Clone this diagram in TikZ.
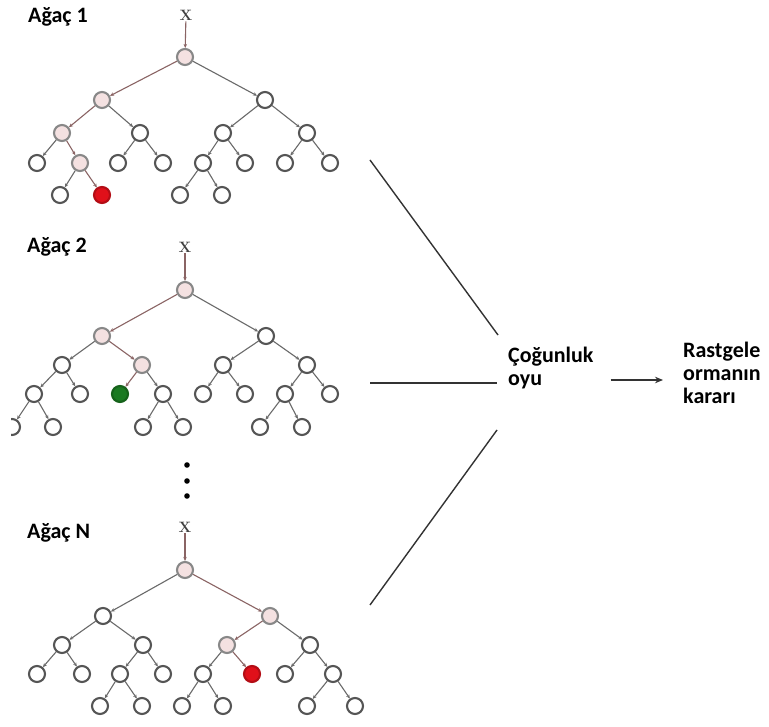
\documentclass[tikz,border=0pt]{standalone}
\usepackage{fontspec}
\setsansfont{Carlito}
\usepackage{tikz}
\usetikzlibrary{arrows.meta}

\definecolor{ndgray}{HTML}{555555}
\definecolor{edgray}{HTML}{6A6A6A}
\definecolor{hitpink}{HTML}{F4E1E1}
\definecolor{hitedge}{HTML}{8A6464}
\definecolor{leafred}{HTML}{E0101A}
\definecolor{leafgreen}{HTML}{1B7A22}

\tikzset{
  nd/.style={circle,draw=ndgray,line width=2.1pt,fill=white,minimum size=16pt,inner sep=0pt},
  hitnd/.style={nd,draw=ndgray!70,fill=hitpink},
  rednd/.style={nd,draw=leafred!80!black,fill=leafred},
  greennd/.style={nd,draw=leafgreen!80!black,fill=leafgreen},
  edg/.style={draw=edgray,line width=1.1pt,-{Stealth[length=4pt,width=3.5pt]}},
  hitedg/.style={edg,draw=hitedge},
  title/.style={font=\sffamily\bfseries\fontsize{22}{23}\selectfont,anchor=west,inner sep=0pt},
  xin/.style={font=\bfseries\fontsize{15}{15}\selectfont,text=black!75,inner sep=1pt},
  bigline/.style={draw=black!80,line width=1.4pt},
  votebox/.style={font=\sffamily\bfseries\fontsize{22}{23}\selectfont,align=left,anchor=west,inner sep=0pt}
}

\begin{document}
\begin{tikzpicture}[x=1pt,y=-1pt]
    \useasboundingbox (0,0) rectangle (769,727);
    \fill[white] (0,0) rectangle (769,727);
    \clip (11,0) rectangle (769,727);

    % Agac 1
    \node[title] (ttl1) at (28,17) {Ağaç 1};
    \node[xin] (t1x) at (186,15) {X};
    \node[hitnd] (t1r) at (185,57) {};
    \node[hitnd] (t1a) at (102,100) {};
    \node[nd] (t1b) at (265,100) {};
    \node[hitnd] (t1aa) at (62,133) {};
    \node[nd] (t1ab) at (140,133) {};
    \node[nd] (t1ba) at (223,133) {};
    \node[nd] (t1bb) at (307,133) {};
    \node[nd] (t1aaa) at (37,163) {};
    \node[hitnd] (t1aab) at (80,163) {};
    \node[nd] (t1aba) at (118,163) {};
    \node[nd] (t1abb) at (163,163) {};
    \node[nd] (t1baa) at (203,163) {};
    \node[nd] (t1bab) at (245,163) {};
    \node[nd] (t1bba) at (285,163) {};
    \node[nd] (t1bbb) at (330,163) {};
    \node[nd] (t1aaba) at (60,195) {};
    \node[rednd] (t1aabb) at (102,195) {};
    \node[nd] (t1baaa) at (180,195) {};
    \node[nd] (t1baab) at (222,195) {};
    \draw[hitedg] (t1x) -- (t1r);
    \foreach \p/\c in {r/a,a/aa,aa/aab,aab/aabb}
        \draw[hitedg] (t1\p) -- (t1\c);
    \foreach \p/\c in {r/b,a/ab,b/ba,b/bb,aa/aaa,ab/aba,ab/abb,ba/baa,ba/bab,bb/bba,bb/bbb,aab/aaba,baa/baaa,baa/baab}
        \draw[edg] (t1\p) -- (t1\c);

    % Agac 2
    \node[title] (ttl2) at (27,247) {Ağaç 2};
    \node[xin] (t2x) at (185,247) {X};
    \node[hitnd] (t2r) at (185,290) {};
    \node[hitnd] (t2a) at (102,336) {};
    \node[nd] (t2b) at (266,336) {};
    \node[nd] (t2aa) at (62,365) {};
    \node[hitnd] (t2ab) at (142,365) {};
    \node[nd] (t2ba) at (223,365) {};
    \node[nd] (t2bb) at (307,365) {};
    \node[nd] (t2aaa) at (34,394) {};
    \node[nd] (t2aab) at (80,394) {};
    \node[greennd] (t2aba) at (120,394) {};
    \node[nd] (t2abb) at (163,394) {};
    \node[nd] (t2baa) at (203,394) {};
    \node[nd] (t2bab) at (245,394) {};
    \node[nd] (t2bba) at (285,394) {};
    \node[nd] (t2bbb) at (330,394) {};
    \node[nd] (t2aaaa) at (12,427) {};
    \node[nd] (t2aaab) at (53,427) {};
    \node[nd] (t2abba) at (143,427) {};
    \node[nd] (t2abbb) at (183,427) {};
    \node[nd] (t2bbaa) at (260,427) {};
    \node[nd] (t2bbab) at (302,427) {};
    \draw[hitedg] (t2x) -- (t2r);
    \foreach \p/\c in {r/a,a/ab,ab/aba}
        \draw[hitedg] (t2\p) -- (t2\c);
    \foreach \p/\c in {r/b,a/aa,b/ba,b/bb,aa/aaa,aa/aab,ab/abb,ba/baa,ba/bab,bb/bba,bb/bbb,aaa/aaaa,aaa/aaab,abb/abba,abb/abbb,bba/bbaa,bba/bbab}
        \draw[edg] (t2\p) -- (t2\c);

    % noktalar
    \fill[black] (187,465) circle (2.8) (187,481) circle (2.8) (187,496) circle (2.8);

    % Agac N
    \node[title] (ttlN) at (27,533) {Ağaç N};
    \node[xin] (tNx) at (185,527) {X};
    \node[hitnd] (tNr) at (185,570) {};
    \node[nd] (tNa) at (103,616) {};
    \node[hitnd] (tNb) at (270,616) {};
    \node[nd] (tNaa) at (62,645) {};
    \node[nd] (tNab) at (143,645) {};
    \node[hitnd] (tNba) at (227,645) {};
    \node[nd] (tNbb) at (310,645) {};
    \node[nd] (tNaaa) at (37,674) {};
    \node[nd] (tNaab) at (82,674) {};
    \node[nd] (tNaba) at (120,674) {};
    \node[nd] (tNabb) at (163,674) {};
    \node[nd] (tNbaa) at (203,674) {};
    \node[rednd] (tNbab) at (252,674) {};
    \node[nd] (tNbba) at (285,674) {};
    \node[nd] (tNbbb) at (333,674) {};
    \node[nd] (tNabaa) at (100,706) {};
    \node[nd] (tNabab) at (142,706) {};
    \node[nd] (tNbaaa) at (182,706) {};
    \node[nd] (tNbaab) at (223,706) {};
    \node[nd] (tNbbba) at (307,706) {};
    \node[nd] (tNbbbb) at (355,706) {};
    \draw[hitedg] (tNx) -- (tNr);
    \foreach \p/\c in {r/b,b/ba,ba/bab}
        \draw[hitedg] (tN\p) -- (tN\c);
    \foreach \p/\c in {r/a,a/aa,a/ab,b/bb,aa/aaa,aa/aab,ab/aba,ab/abb,ba/baa,bb/bba,bb/bbb,aba/abaa,aba/abab,baa/baaa,baa/baab,bbb/bbba,bbb/bbbb}
        \draw[edg] (tN\p) -- (tN\c);

    % cogunluk oyu ve karar
    \node[votebox] (vote) at (508,368) {Çoğunluk\\oyu};
    \node[votebox] (dec) at (683,373) {Rastgele\\ormanın\\kararı};
    \coordinate (in1) at (370,160);
    \coordinate (in2) at (370,383);
    \coordinate (in3) at (370,605);
    \coordinate (vin1) at (498,335);
    \coordinate (vin2) at (497,383);
    \coordinate (vin3) at (497,430);
    \coordinate (ay) at (0,380);
    \draw[bigline] (in1) -- (vin1);
    \draw[bigline] (in2) -- (vin2);
    \draw[bigline] (in3) -- (vin3);
    \draw[bigline,line width=1.3pt,-{Stealth[length=8pt,width=6.5pt]}] ([xshift=17pt]vote.east |- ay) -- ([xshift=-20pt]dec.west |- ay);

\end{tikzpicture}
\end{document}
